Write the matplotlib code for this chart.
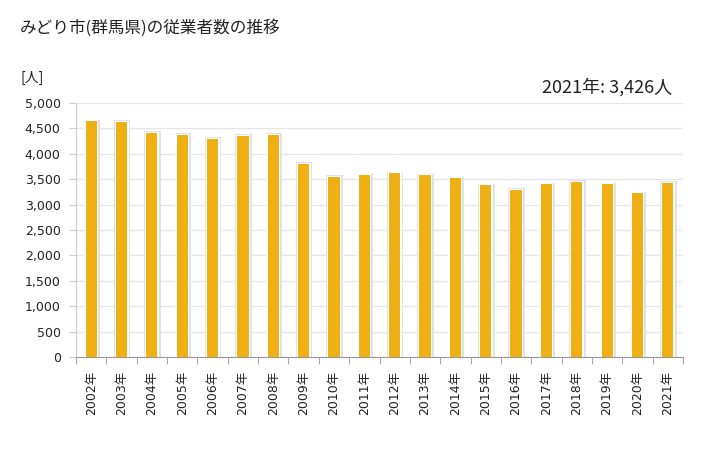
import matplotlib
matplotlib.use("Agg")
import matplotlib.pyplot as plt
import numpy as np

plt.rcParams['font.family'] = ['Noto Sans CJK JP', 'DejaVu Sans']
num_font = ['DejaVu Sans', 'Noto Sans CJK JP']

years = [f"{y}年" for y in range(2002, 2022)]
values = [4640, 4635, 4405, 4370, 4290, 4345, 4370, 3795, 3540, 3575,
          3615, 3575, 3515, 3380, 3285, 3400, 3440, 3400, 3220, 3426]
yticks = [0, 500, 1000, 1500, 2000, 2500, 3000, 3500, 4000, 4500, 5000]

fig = plt.figure(figsize=(7.28, 4.5), dpi=100)
ax = fig.add_axes([76/728, 93/450, 607/728, 254/450])

x = np.arange(len(years))
# shadow & white border
ax.bar(x + 0.02, np.array(values) + 35, width=0.54, color='#e2e2e2', zorder=2)
ax.bar(x, np.array(values) + 20, width=0.46, color='white', zorder=3)
ax.bar(x, values, width=0.37, color='#EFB016', zorder=4)

ax.set_xlim(-0.5, len(years) - 0.5)
ax.set_ylim(0, 5000)
ax.set_yticks(yticks)
ax.set_yticklabels([f"{v:,}" for v in yticks], fontsize=9, family=num_font)
ax.set_xticks(x)
ax.set_xticklabels(years, rotation=90, fontsize=9, family=num_font)
ax.set_xticks(np.arange(len(years) + 1) - 0.5, minor=True)
ax.tick_params(axis='x', which='major', length=0, pad=10)
ax.tick_params(axis='x', which='minor', length=5, color='#999999')
ax.tick_params(axis='y', length=5, color='#cccccc', pad=6, labelcolor='#222222')
ax.tick_params(axis='x', labelcolor='#222222')
ax.grid(axis='y', color='#e6e6e6', linewidth=1, zorder=0)
ax.set_axisbelow(True)
for s in ['top', 'right']:
    ax.spines[s].set_visible(False)
ax.spines['left'].set_color('#cccccc')
ax.spines['bottom'].set_color('#999999')

fig.text(20/728, 1 - 28/450, "みどり市(群馬県)の従業者数の推移", fontsize=12, va='center', ha='left', color='#222222')
fig.text(20/728, 1 - 78/450, "[人]", fontsize=10, va='center', ha='left', color='#222222')
fig.text(672/728, 1 - 87/450, "2021年: 3,426人", fontsize=13, va='center', ha='right', color='#222222')

fig.savefig("out.png", dpi=100)
